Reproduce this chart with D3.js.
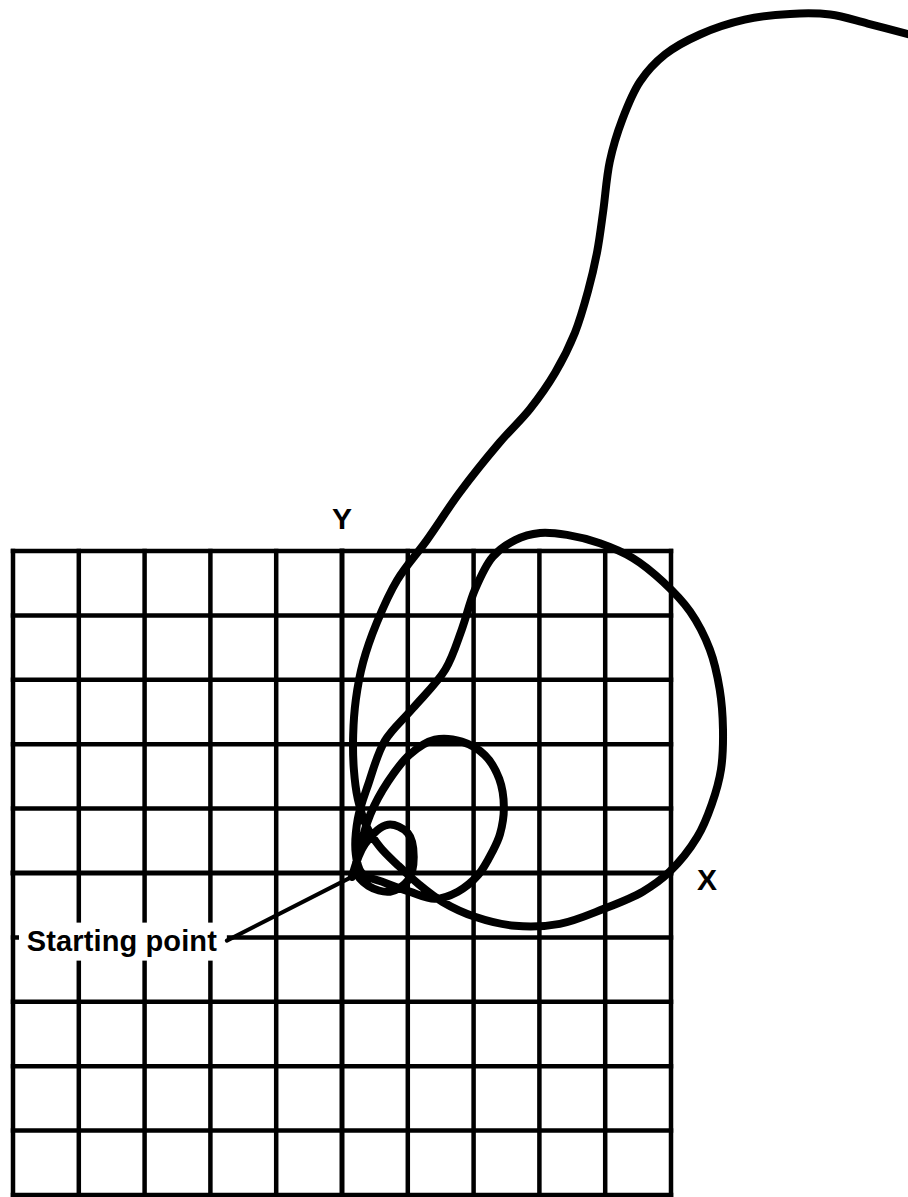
<!DOCTYPE html>
<html>
<head>
<meta charset="utf-8">
<script src="https://cdn.jsdelivr.net/npm/d3@7"></script>
<style>
  body { margin: 0; background: #fff; }
  text { font-family: "Liberation Sans", Arial, sans-serif; fill: #000; }
</style>
</head>
<body>
<div id="viz"></div>
<script>
// grid units, one cell = 1
const gridTicks = [-5, -4, -3, -2, -1, 0, 1, 2, 3, 4, 5];

// the track, in grid units, starting at the starting point
const trackX = [0.15, 0.35, 0.70, 1.00, 1.09, 1.00, 0.73, 0.40, 0.21,
  0.27, 0.43, 0.70, 1.03, 1.41, 1.82, 2.17, 2.39, 2.46, 2.40, 2.29, 2.07, 1.76, 1.41, 1.03, 0.65, 0.30,
  0.21, 0.24, 0.40, 0.65, 1.07, 1.57, 1.82, 2.02, 2.29, 2.63, 3.01, 3.42, 3.92, 4.42, 4.88, 5.29, 5.59,
  5.74, 5.79, 5.76, 5.62, 5.40, 4.98, 4.57, 3.97, 3.31, 2.63, 2.02, 1.53, 1.16, 0.85, 0.58, 0.38, 0.24,
  0.18, 0.17, 0.21, 0.32, 0.53, 0.84, 1.29, 1.79, 2.40, 2.86, 3.24, 3.54, 3.74, 3.88, 3.97, 4.07, 4.26,
  4.53, 4.91, 5.44, 6.12, 6.81, 7.42, 7.99, 8.63];
const trackY = [-0.06, 0.45, 0.75, 0.62, 0.25, -0.12, -0.29, -0.20, 0.03,
  0.37, 0.91, 1.42, 1.84, 2.07, 2.04, 1.83, 1.46, 1.02, 0.60, 0.34, -0.03, -0.29, -0.40, -0.29, -0.15, 0.00,
  0.29, 0.84, 1.38, 2.05, 2.55, 3.16, 3.78, 4.40, 4.91, 5.17, 5.28, 5.25, 5.12, 4.89, 4.52, 4.06, 3.47,
  2.85, 2.23, 1.61, 1.07, 0.56, 0.02, -0.29, -0.56, -0.79, -0.82, -0.68, -0.45, -0.17, 0.12, 0.40, 0.71, 1.15,
  1.61, 2.15, 2.69, 3.27, 3.89, 4.55, 5.17, 5.91, 6.69, 7.21, 7.77, 8.39, 9.04, 9.66, 10.28, 11.05, 11.70,
  12.29, 12.71, 13.02, 13.25, 13.34, 13.33, 13.19, 13.02];

const axisNames = ['X', 'Y'];
const startLabel = 'Starting point';
const labelAnchor = [-1.75, -1.05];

const w = 908;
const h = 1197;

const svg = d3.select('#viz').
append('svg').
attr('width', w).
attr('height', h);

const x = d3.scaleLinear().domain([-5, 5]).range([13, 671]);
const y = d3.scaleLinear().domain([-5, 5]).range([1195, 551]);

// grid
svg.append('g').
selectAll('line').
data(gridTicks).
enter().
append('line').
attr('x1', d => x(d)).
attr('x2', d => x(d)).
attr('y1', y(5)).
attr('y2', y(-5)).
attr('stroke', '#000').
attr('stroke-width', d => d === 0 ? 5 : 4.5).
attr('stroke-linecap', 'square');

svg.append('g').
selectAll('line').
data(gridTicks).
enter().
append('line').
attr('y1', d => y(d)).
attr('y2', d => y(d)).
attr('x1', x(-5)).
attr('x2', x(5)).
attr('stroke', '#000').
attr('stroke-width', d => d === 0 ? 5 : 4.5).
attr('stroke-linecap', 'square');

// the track
const points = trackX.map((v, i) => [v, trackY[i]]);
const line = d3.line().
x(d => x(d[0])).
y(d => y(d[1])).
curve(d3.curveCatmullRom.alpha(0.5));

svg.append('path').
datum(points).
attr('d', line).
attr('fill', 'none').
attr('stroke', '#000').
attr('stroke-width', 8).
attr('stroke-linejoin', 'round').
attr('stroke-linecap', 'round');

// axis names
svg.append('text').
attr('x', x(5) + 36).
attr('y', y(0) + 17).
attr('text-anchor', 'middle').
attr('font-size', 30).
attr('font-weight', 'bold').
text(axisNames[0]);

svg.append('text').
attr('x', x(0)).
attr('y', y(5) - 22).
attr('text-anchor', 'middle').
attr('font-size', 30).
attr('font-weight', 'bold').
text(axisNames[1]);

// starting point label with leader
const lx = x(labelAnchor[0]);
const ly = y(labelAnchor[1]);

svg.append('rect').
attr('x', 19).
attr('y', ly - 18).
attr('width', lx - 19).
attr('height', 38).
attr('fill', '#fff');

svg.append('text').
attr('x', lx - 10).
attr('y', ly + 10).
attr('text-anchor', 'end').
attr('font-size', 29).
attr('font-weight', 'bold').
attr('textLength', 190).
text(startLabel);

svg.append('line').
attr('x1', lx).
attr('y1', ly).
attr('x2', x(trackX[0])).
attr('y2', y(trackY[0])).
attr('stroke', '#000').
attr('stroke-width', 4).
attr('stroke-linecap', 'round');
</script>
</body>
</html>
